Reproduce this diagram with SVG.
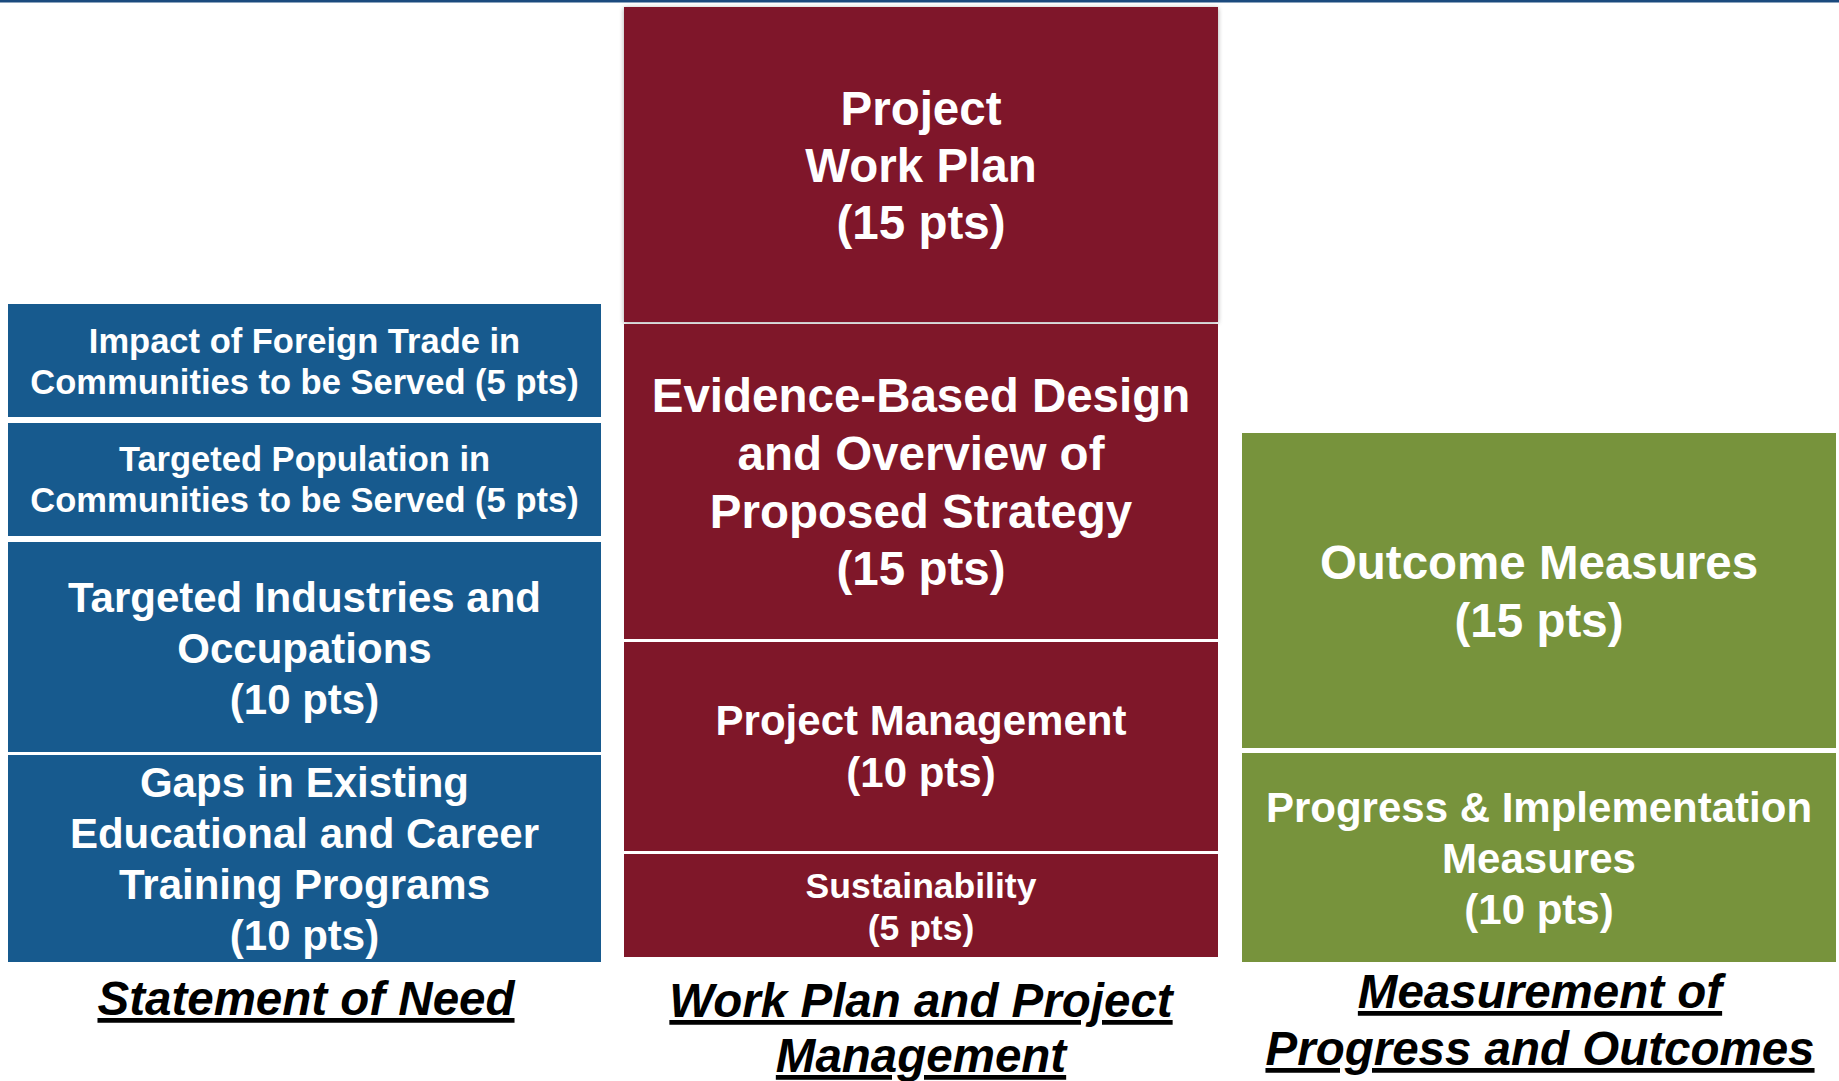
<svg xmlns="http://www.w3.org/2000/svg" width="1839" height="1081" viewBox="0 0 1839 1081">
  <defs>
    <filter id="softShadow" x="-5%" y="-5%" width="110%" height="110%">
      <feGaussianBlur in="SourceAlpha" stdDeviation="2.5"/>
      <feOffset dx="0" dy="1" result="blur"/>
      <feComponentTransfer><feFuncA type="linear" slope="0.35"/></feComponentTransfer>
      <feMerge><feMergeNode/><feMergeNode in="SourceGraphic"/></feMerge>
    </filter>
  </defs>
  <style>
    .need { fill: #175a8e; }
    .plan { fill: #7f1729; }
    .meas { fill: #77933c; }
    text { font-family: "Liberation Sans", Arial, sans-serif; font-weight: bold; text-anchor: middle; }
    .lbl { fill: #ffffff; }
    .s35 { font-size: 34.5px; }
    .s42 { font-size: 42px; }
    .s47 { font-size: 47.5px; }
    .head { fill: #000000; font-style: italic; font-size: 47.5px; text-decoration: underline; }
  </style>

  <rect width="1839" height="1081" fill="#ffffff"/>
  <!-- header rule -->
  <rect x="0" y="0" width="1839" height="2.5" fill="#1b4a7e"/>

  <!-- Statement of Need column -->
  <g id="impact-foreign-trade">
    <rect class="need" x="8" y="304" width="593" height="113"/>
    <text class="lbl s35" x="304.5" y="353">Impact of Foreign Trade in</text>
    <text class="lbl s35" x="304.5" y="394">Communities to be Served (5 pts)</text>
  </g>
  <g id="targeted-population">
    <rect class="need" x="8" y="423" width="593" height="113"/>
    <text class="lbl s35" x="304.5" y="471">Targeted Population in</text>
    <text class="lbl s35" x="304.5" y="512">Communities to be Served (5 pts)</text>
  </g>
  <g id="targeted-industries">
    <rect class="need" x="8" y="542" width="593" height="210"/>
    <text class="lbl s42" x="304.5" y="612">Targeted Industries and</text>
    <text class="lbl s42" x="304.5" y="663">Occupations</text>
    <text class="lbl s42" x="304.5" y="714">(10 pts)</text>
  </g>
  <g id="training-gaps">
    <rect class="need" x="8" y="755" width="593" height="207"/>
    <text class="lbl s42" x="304.5" y="797">Gaps in Existing</text>
    <text class="lbl s42" x="304.5" y="848">Educational and Career</text>
    <text class="lbl s42" x="304.5" y="899">Training Programs</text>
    <text class="lbl s42" x="304.5" y="950">(10 pts)</text>
  </g>
  <g id="statement-of-need-heading">
    <text class="head" x="306" y="1015">Statement of Need</text>
  </g>

  <!-- Work Plan and Project Management column -->
  <g id="project-work-plan">
    <rect class="plan" x="624" y="7" width="594" height="315" filter="url(#softShadow)"/>
    <text class="lbl s47" x="921" y="125">Project</text>
    <text class="lbl s47" x="921" y="182">Work Plan</text>
    <text class="lbl s47" x="921" y="239">(15 pts)</text>
  </g>
  <g id="evidence-based-design">
    <rect class="plan" x="624" y="324" width="594" height="315"/>
    <text class="lbl s47" x="921" y="412">Evidence-Based Design</text>
    <text class="lbl s47" x="921" y="470">and Overview of</text>
    <text class="lbl s47" x="921" y="528">Proposed Strategy</text>
    <text class="lbl s47" x="921" y="585">(15 pts)</text>
  </g>
  <g id="project-management">
    <rect class="plan" x="624" y="642" width="594" height="209"/>
    <text class="lbl s42" x="921" y="735">Project Management</text>
    <text class="lbl s42" x="921" y="787">(10 pts)</text>
  </g>
  <g id="sustainability">
    <rect class="plan" x="624" y="854" width="594" height="103"/>
    <text class="lbl s35" x="921" y="898" style="font-size:35.5px">Sustainability</text>
    <text class="lbl s35" x="921" y="940" style="font-size:35.5px">(5 pts)</text>
  </g>
  <g id="work-plan-heading">
    <text class="head" x="921" y="1017">Work Plan and Project</text>
    <text class="head" x="921" y="1072">Management</text>
  </g>

  <!-- Measurement of Progress and Outcomes column -->
  <g id="outcome-measures">
    <rect class="meas" x="1242" y="433" width="594" height="315"/>
    <text class="lbl s47" x="1539" y="579">Outcome Measures</text>
    <text class="lbl s47" x="1539" y="637">(15 pts)</text>
  </g>
  <g id="progress-measures">
    <rect class="meas" x="1242" y="753" width="594" height="209"/>
    <text class="lbl s42" x="1539" y="822">Progress &amp; Implementation</text>
    <text class="lbl s42" x="1539" y="873">Measures</text>
    <text class="lbl s42" x="1539" y="924">(10 pts)</text>
  </g>
  <g id="measurement-heading">
    <text class="head" x="1540" y="1008">Measurement of</text>
    <text class="head" x="1540" y="1065">Progress and Outcomes</text>
  </g>

  <!-- no connectors in this layout -->
  <g id="connectors"/>
</svg>
